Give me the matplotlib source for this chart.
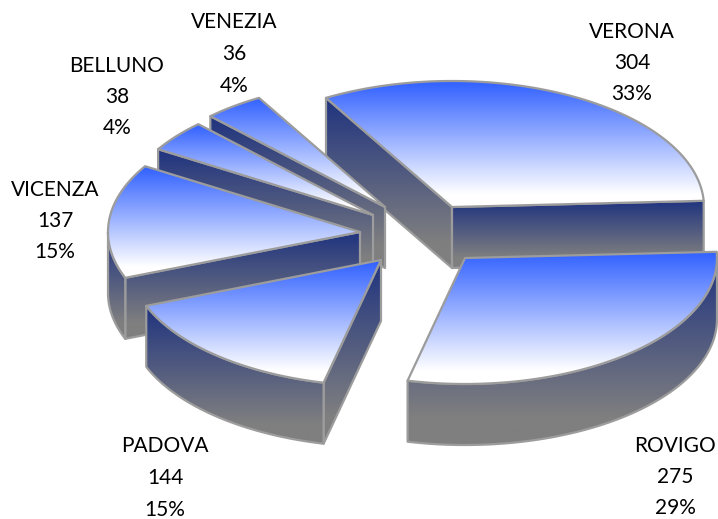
# 3D exploded pie of the Veneto provinces, drawn by hand with gradient polygons

import numpy as np
import matplotlib
matplotlib.use("Agg")
import matplotlib.pyplot as plt
from matplotlib.patches import Polygon
from matplotlib.colors import LinearSegmentedColormap

# data, in clockwise order starting at the first slice
provinces = ["VERONA", "ROVIGO", "PADOVA", "VICENZA", "BELLUNO", "VENEZIA"]
values = [304, 275, 144, 137, 38, 36]

# layout in pixels
START_ANGLE = -30
RX = 252
RY = 126
DEPTH = 61
LINE_STEP = 31.5
apex_x = [452, 465, 381, 360, 373, 385]
apex_y = [207, 258, 260, 232, 215, 207]
label_x = [632, 675, 165, 55, 117, 234]
label_y = [63, 477, 478, 221, 97, 54]
draw_order = [0, 5, 4, 3, 2, 1]

top_cmap = LinearSegmentedColormap.from_list("top", [(0, "#3060ff"), (0.9, "#ffffff"), (1, "#ffffff")])
side_cmap = LinearSegmentedColormap.from_list("side", [(0, "#1f3380"), (0.85, "#7f7f7f"), (1, "#7f7f7f")])
EDGE = "#9c9c9c"

fig = plt.figure(figsize=(7.18, 5.19), dpi=100)
ax = fig.add_axes([0, 0, 1, 1])
ax.axis("off")

z = [1]


def fill(points, cmap):
	# gradient runs top to bottom over the bounding box of the polygon
	points = np.array(points)
	x0, x1 = points[:, 0].min(), points[:, 0].max()
	y0, y1 = points[:, 1].min(), points[:, 1].max()
	grad = np.linspace(0, 1, 256).reshape(-1, 1)
	im = ax.imshow(grad, cmap=cmap, extent=(x0, x1, y1, y0), aspect="auto", zorder=z[0], interpolation="bilinear")
	clip = Polygon(points, closed=True, transform=ax.transData, facecolor="none", edgecolor="none")
	ax.add_patch(clip)
	im.set_clip_path(clip)
	ax.add_patch(Polygon(points, closed=True, facecolor="none", edgecolor=EDGE, linewidth=1.6, joinstyle="round", zorder=z[0] + 1))
	z[0] += 2


def arc(cx, cy, a0, a1, dy=0):
	t = np.radians(np.linspace(a0, a1, 80))
	return np.column_stack([cx + RX * np.sin(t), cy + dy - RY * np.cos(t)])


total = sum(values)
angles = START_ANGLE + np.cumsum([0] + [v / total * 360 for v in values])

for i in draw_order:
	cx, cy = apex_x[i], apex_y[i]
	a0, a1 = angles[i], angles[i + 1]
	top_arc = arc(cx, cy, a0, a1)

	# radial faces, only the ones turned towards the viewer
	if a0 % 360 > 180:
		p = top_arc[0]
		fill([(cx, cy), p, (p[0], p[1] + DEPTH), (cx, cy + DEPTH)], side_cmap)
	if a1 % 360 < 180:
		p = top_arc[-1]
		fill([(cx, cy), p, (p[0], p[1] + DEPTH), (cx, cy + DEPTH)], side_cmap)

	# outer rim, only the part that faces the viewer
	r0, r1 = max(a0, 90), min(a1, 270)
	if r1 > r0:
		upper = arc(cx, cy, r0, r1)
		lower = arc(cx, cy, r0, r1, DEPTH)
		fill(np.vstack([upper, lower[::-1]]), side_cmap)

	fill(np.vstack([[(cx, cy)], top_arc]), top_cmap)

# three separate lines per label so the spacing does not push the box off the canvas
for i in range(len(values)):
	lines = [provinces[i], str(values[i]), f"{values[i] / total:.0%}"]
	for k, line in enumerate(lines):
		ax.text(label_x[i], label_y[i] + (k - 1) * LINE_STEP, line, ha="center", va="center", family="Lato", fontsize=15, color="black", zorder=z[0])

ax.set_xlim(0, 718)
ax.set_ylim(519, 0)
fig.savefig("out.png", dpi=100, facecolor="white")
